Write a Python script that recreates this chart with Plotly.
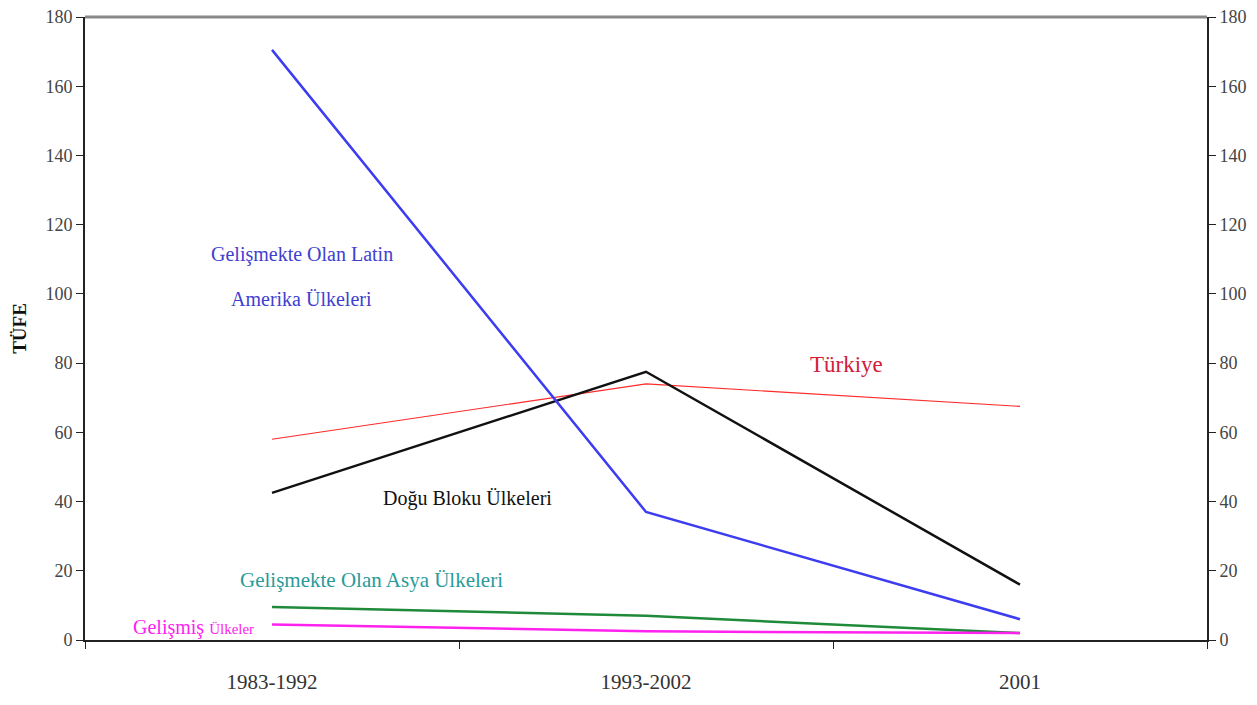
import plotly.graph_objects as go

categories = ["1983-1992", "1993-2002", "2001"]
latin = [170.5, 37, 6]
dogu = [42.5, 77.5, 16]
turkiye = [58, 74, 67.5]
asya = [9.5, 7, 2]
gelismis = [4.5, 2.5, 2]
yticks = [0, 20, 40, 60, 80, 100, 120, 140, 160, 180]

FONT = "Liberation Serif"

fig = go.Figure()
fig.add_trace(go.Scatter(x=categories, y=turkiye, mode="lines", line=dict(color="#FF2A2A", width=1.2)))
fig.add_trace(go.Scatter(x=categories, y=dogu, mode="lines", line=dict(color="#111111", width=2.5)))
fig.add_trace(go.Scatter(x=categories, y=latin, mode="lines", line=dict(color="#3C3CF0", width=2.5)))
fig.add_trace(go.Scatter(x=categories, y=asya, mode="lines", line=dict(color="#1E8A3A", width=2.5)))
fig.add_trace(go.Scatter(x=categories, y=gelismis, mode="lines", line=dict(color="#FF22EE", width=2.5)))
# invisible trace for right axis
fig.add_trace(go.Scatter(x=categories, y=latin, mode="lines", line=dict(width=0), yaxis="y2",
                         hoverinfo="skip", opacity=0))

fig.update_layout(
    width=1241, height=689,
    margin=dict(l=77, r=42, t=9, b=57, autoexpand=False),
    paper_bgcolor="white", plot_bgcolor="white",
    showlegend=False,
    font=dict(family=FONT, size=16, color="#222222"),
    xaxis=dict(type="category", tickson="boundaries", ticks="outside", ticklen=7,
               tickcolor="#222", showline=True, linecolor="#222", linewidth=2,
               showgrid=False, range=[-0.5, 2.5], tickfont=dict(size=21, family=FONT, color="#333"),
               zeroline=False, ticklabelstandoff=22, ticklabeloverflow="allow"),
    yaxis=dict(range=[0, 180], tickvals=yticks, ticks="outside", ticklen=7, tickcolor="#222",
               showline=True, linecolor="#222", linewidth=2, showgrid=False, zeroline=False,
               tickfont=dict(size=18, family=FONT, color="#444"), ticklabeloverflow="allow",
               title=dict(text="<b>TÜFE</b>", font=dict(size=19, family=FONT, color="#111"), standoff=14)),
    yaxis2=dict(range=[0, 180], tickvals=yticks, ticks="outside", ticklen=7, tickcolor="#222",
                overlaying="y", side="right", showline=True, linecolor="#222", linewidth=2,
                showgrid=False, zeroline=False, tickfont=dict(size=18, family=FONT, color="#444"),
                ticklabeloverflow="allow"),
)

fig.add_shape(type="line", xref="paper", yref="paper", x0=0, x1=1, y0=1, y1=1,
              line=dict(color="#888888", width=3))

anns = [
    dict(x=0.08, y=111.5, text="Gelişmekte Olan Latin", color="#4040D0", size=20),
    dict(x=0.08, y=98.5, text="Amerika Ülkeleri", color="#4040D0", size=20),
    dict(x=1.537, y=79.5, text="Türkiye", color="#D0203A", size=23),
    dict(x=0.524, y=41, text="Doğu Bloku Ülkeleri", color="#111111", size=20),
    dict(x=0.267, y=17.3, text="Gelişmekte Olan Asya Ülkeleri", color="#2A9A9A", size=21),
    dict(x=-0.21, y=3.5, text="Gelişmiş <span style='font-size:15px'>Ülkeler</span>", color="#FF22EE", size=20),
]
for a in anns:
    fig.add_annotation(x=a["x"], y=a["y"], xref="x", yref="y", text=a["text"], showarrow=False,
                       font=dict(color=a["color"], size=a["size"], family=FONT), align="center")

fig.write_html("out.html")
